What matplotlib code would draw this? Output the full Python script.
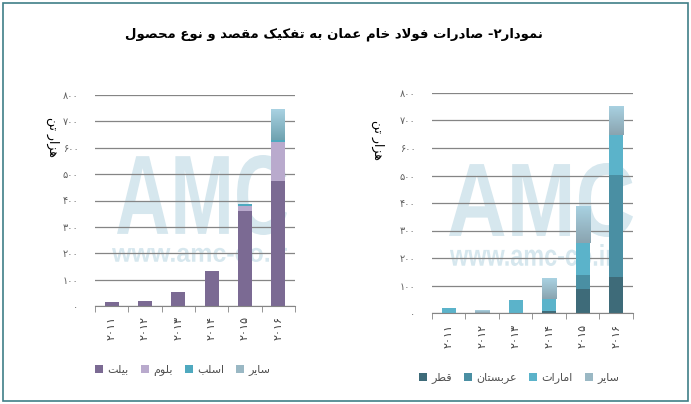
import matplotlib
matplotlib.use("Agg")
import matplotlib.pyplot as plt
import numpy as np
from matplotlib.font_manager import FontProperties
from matplotlib.textpath import TextPath
from matplotlib.patches import PathPatch, Rectangle, Patch
from matplotlib.transforms import Affine2D, IdentityTransform
from matplotlib.colors import LinearSegmentedColormap

W, H = 691, 404

years = ['۲۰۱۱', '۲۰۱۲', '۲۰۱۳', '۲۰۱۴', '۲۰۱۵', '۲۰۱۶']
yticks = [0, 100, 200, 300, 400, 500, 600, 700, 800]
ytick_labels = ['۰', '۱۰۰', '۲۰۰', '۳۰۰', '۴۰۰', '۵۰۰', '۶۰۰', '۷۰۰', '۸۰۰']

# by product (left)
billet = [15, 20, 53, 131, 361, 475]
bloom = [0, 0, 0, 0, 18, 148]
slab = [0, 0, 0, 0, 7, 8]
other_prod = [0, 0, 0, 0, 0, 115]

# by destination (right)
qatar = [0, 0, 0, 8, 86, 131]
arabia = [0, 0, 0, 0, 51, 370]
uae = [17, 0, 46, 44, 116, 145]
other_dest = [0, 10, 0, 74, 135, 106]

title = 'نمودار۲- صادرات فولاد خام عمان به تفکیک مقصد و نوع محصول'
unit = 'هزار تن'
prod_names = ['بیلت', 'بلوم', 'اسلب', 'سایر']
dest_names = ['قطر', 'عربستان', 'امارات', 'سایر']

# simple persian shaping (presentation forms, visual order)
FORMS = {
    'ا': ('\uFE8D', '\uFE8E', None, None),
    'ب': ('\uFE8F', '\uFE90', '\uFE91', '\uFE92'),
    'ت': ('\uFE95', '\uFE96', '\uFE97', '\uFE98'),
    'ح': ('\uFEA1', '\uFEA2', '\uFEA3', '\uFEA4'),
    'خ': ('\uFEA5', '\uFEA6', '\uFEA7', '\uFEA8'),
    'د': ('\uFEA9', '\uFEAA', None, None),
    'ر': ('\uFEAD', '\uFEAE', None, None),
    'ز': ('\uFEAF', '\uFEB0', None, None),
    'س': ('\uFEB1', '\uFEB2', '\uFEB3', '\uFEB4'),
    'ص': ('\uFEB9', '\uFEBA', '\uFEBB', '\uFEBC'),
    'ط': ('\uFEC1', '\uFEC2', '\uFEC3', '\uFEC4'),
    'ع': ('\uFEC9', '\uFECA', '\uFECB', '\uFECC'),
    'ف': ('\uFED1', '\uFED2', '\uFED3', '\uFED4'),
    'ق': ('\uFED5', '\uFED6', '\uFED7', '\uFED8'),
    'ل': ('\uFEDD', '\uFEDE', '\uFEDF', '\uFEE0'),
    'م': ('\uFEE1', '\uFEE2', '\uFEE3', '\uFEE4'),
    'ن': ('\uFEE5', '\uFEE6', '\uFEE7', '\uFEE8'),
    'ه': ('\uFEE9', '\uFEEA', '\uFEEB', '\uFEEC'),
    'و': ('\uFEED', '\uFEEE', None, None),
    'ک': ('\uFB8E', '\uFB8F', '\uFB90', '\uFB91'),
    'ی': ('\uFBFC', '\uFBFD', '\uFBFE', '\uFBFF'),
}


def fa(text):
    out = []
    i = 0
    n = len(text)
    while i < n:
        c = text[i]
        if c not in FORMS:
            out.append(c)
            i += 1
            continue
        prev = text[i - 1] if i > 0 else ''
        link_prev = prev in FORMS and FORMS[prev][2] is not None
        if c == 'ل' and i + 1 < n and text[i + 1] == 'ا':
            out.append('\uFEFC' if link_prev else '\uFEFB')
            i += 2
            continue
        nxt = text[i + 1] if i + 1 < n else ''
        iso, fin, ini, med = FORMS[c]
        link_next = ini is not None and nxt in FORMS
        if link_prev and link_next:
            out.append(med)
        elif link_prev:
            out.append(fin)
        elif link_next:
            out.append(ini)
        else:
            out.append(iso)
        i += 1
    return ''.join(reversed(out))


fig = plt.figure(figsize=(W / 100, H / 100), dpi=100)
fig.patch.set_facecolor('white')


def px_axes(x0, y0, x1, y1):
    return fig.add_axes([x0 / W, 1 - y1 / H, (x1 - x0) / W, (y1 - y0) / H])


def watermark(text, x0, y0, x1, y1):
    tp = TextPath((0, 0), text, size=100,
                  prop=FontProperties(family='Liberation Sans', weight='bold'))
    bb = tp.get_extents()
    tr = (Affine2D().translate(-bb.x0, -bb.y0)
          .scale((x1 - x0) / bb.width, (y1 - y0) / bb.height)
          .translate(x0, H - y1))
    p = PathPatch(tr.transform_path(tp), transform=IdentityTransform(),
                  facecolor='#d6e7ee', edgecolor='none', zorder=-1)
    fig.add_artist(p)


def gradient_bar(ax, bar, c0, c1):
    bar.set_facecolor('none')
    x0, y0 = bar.get_x(), bar.get_y()
    w, h = bar.get_width(), bar.get_height()
    if h <= 0:
        return
    cmap = LinearSegmentedColormap.from_list('g', [c0, c1])
    im = ax.imshow(np.linspace(0, 1, 50).reshape(-1, 1), cmap=cmap,
                   extent=[x0, x0 + w, y0, y0 + h], origin='lower',
                   aspect='auto', zorder=2)
    im.set_clip_path(bar)


def style_axes(ax, pad_x):
    ax.patch.set_visible(False)
    ax.set_xlim(-0.5, len(years) - 0.5)
    ax.set_ylim(0, 800)
    ax.set_yticks(yticks)
    ax.set_yticklabels(ytick_labels)
    ax.grid(axis='y', color='#858585', lw=0.9)
    ax.set_axisbelow(True)
    for s in ['top', 'right', 'left']:
        ax.spines[s].set_visible(False)
    ax.spines['bottom'].set_color('#858585')
    ax.spines['bottom'].set_zorder(3)
    ax.set_xticks(range(len(years)))
    ax.set_xticklabels(years, rotation=90, fontsize=8, color='#404040')
    ax.set_xticks(np.arange(-0.5, len(years)), minor=True)
    ax.tick_params(axis='x', which='major', length=0, pad=pad_x)
    ax.tick_params(axis='x', which='minor', length=4, color='#858585')
    ax.tick_params(axis='y', length=0, pad=12, labelsize=7, labelcolor='#606060')


x = np.arange(len(years))
bw = 0.42

# left chart: by product
axl = px_axes(95, 95, 295, 306)
watermark('AMC', 117, 155, 287, 235)
watermark('www.amc-co.ir', 112, 243, 287, 262)
b = np.zeros(len(years))
prod_cols = ['#7b6a93', '#b9aacd', '#4fa9bf', '#9ab8c4']
for vals, col in zip([billet, bloom, slab], prod_cols[:3]):
    axl.bar(x, vals, bw, bottom=b, color=col, zorder=2)
    b += np.array(vals)
bars = axl.bar(x, other_prod, bw, bottom=b, color=prod_cols[3], zorder=2)
for bar in bars:
    gradient_bar(axl, bar, '#6fa2b0', '#a9d2e2')
style_axes(axl, 7)

# right chart: by destination
axr = px_axes(432, 93, 633, 313)
watermark('AMC', 449, 163, 633, 237)
watermark('www.amc-co.ir', 450, 244, 614, 266)
b = np.zeros(len(years))
dest_cols = ['#3e6b79', '#4a8fa3', '#5bb3ca', '#9ab8c4']
for vals, col in zip([qatar, arabia, uae], dest_cols[:3]):
    axr.bar(x, vals, bw, bottom=b, color=col, zorder=2)
    b += np.array(vals)
bars = axr.bar(x, other_dest, bw, bottom=b, color=dest_cols[3], zorder=2)
for bar in bars:
    gradient_bar(axr, bar, '#8aa4b0', '#a9d2e2')
style_axes(axr, 8)

# titles and labels
fig.text(334 / W, 1 - 34 / H, fa(title), ha='center', va='center',
         fontsize=9.5, fontweight='bold', family='DejaVu Sans')
fig.text(53 / W, 1 - 137 / H, fa(unit), rotation=-90, ha='center', va='center',
         fontsize=9, family='DejaVu Sans')
fig.text(378 / W, 1 - 140 / H, fa(unit), rotation=-90, ha='center', va='center',
         fontsize=9, family='DejaVu Sans')

# legends
for names, cols, cx, cy in [(prod_names, prod_cols, 183 / W, 1 - 370 / H),
                             (dest_names, dest_cols, 519 / W, 1 - 378 / H)]:
    handles = [Patch(facecolor=c, edgecolor='none') for c in cols]
    fig.legend(handles, [fa(n) for n in names], ncol=4, frameon=False,
               loc='center', bbox_to_anchor=(cx, cy), fontsize=8,
               handlelength=0.7, handleheight=0.7, handletextpad=0.4,
               columnspacing=1.1, labelcolor='#505050')

# outer frame
fig.add_artist(Rectangle((3 / W, 3 / H), (W - 6) / W, (H - 6) / H,
                         transform=fig.transFigure, fill=False,
                         edgecolor='#3f7f88', lw=1.2))

fig.savefig('out.png', dpi=100)
